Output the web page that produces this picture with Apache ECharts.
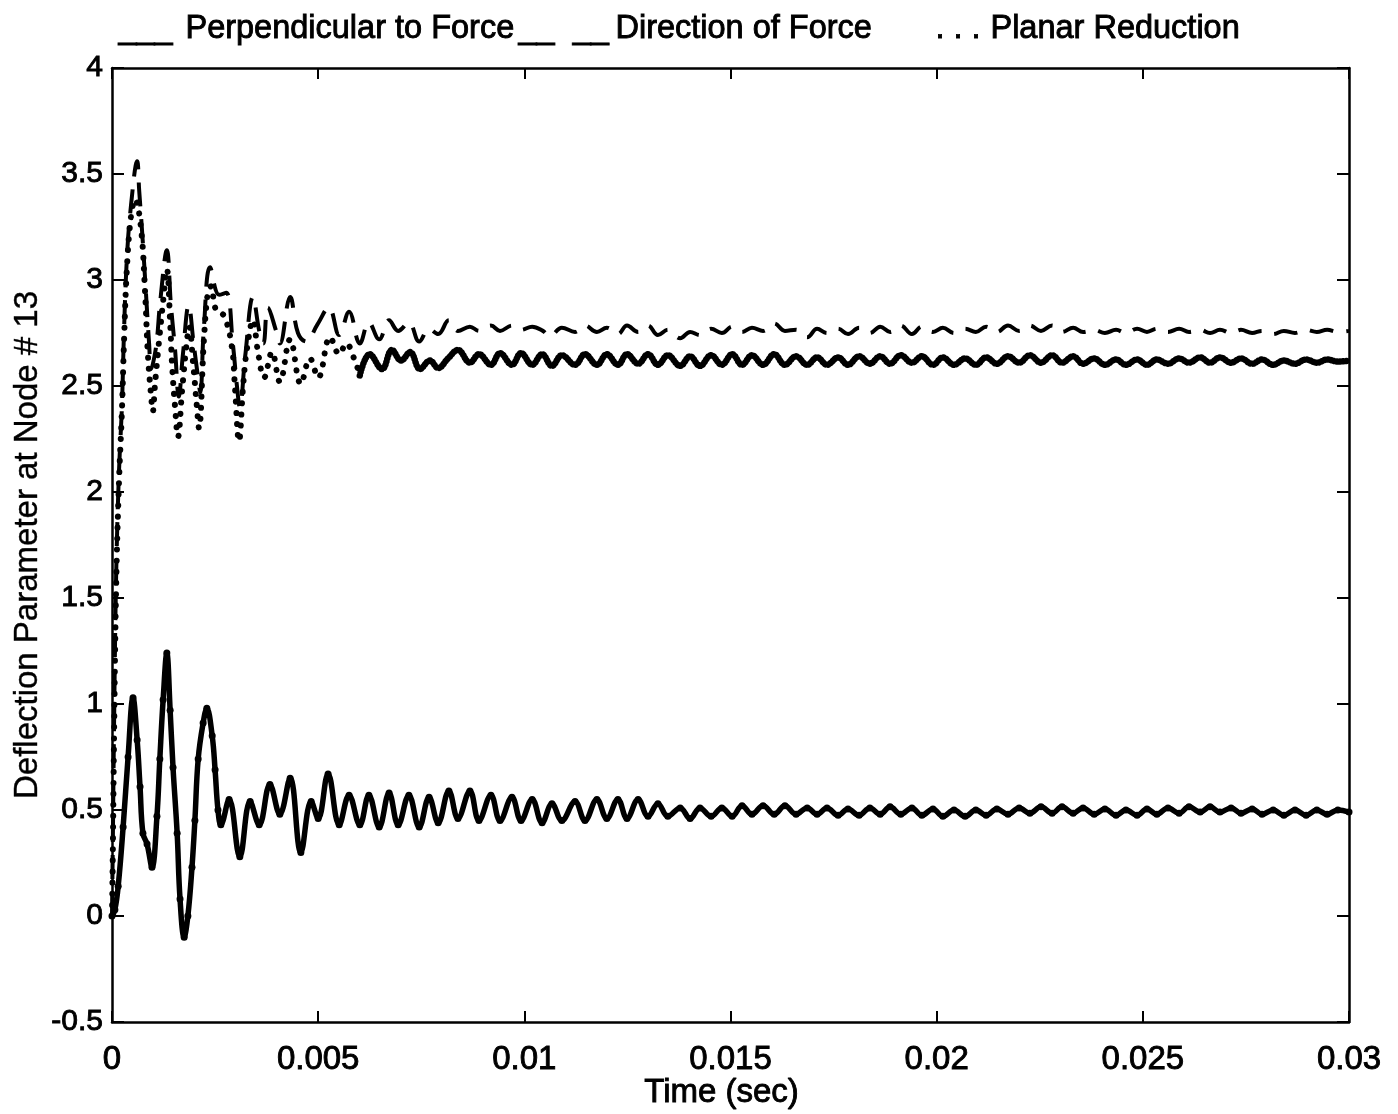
<!DOCTYPE html>
<html>
<head>
<meta charset="utf-8">
<title>Deflection Parameter at Node # 13</title>
<script src="https://cdn.jsdelivr.net/npm/echarts@6/dist/echarts.min.js"></script>
<style>
  html, body { margin: 0; padding: 0; background: #fff; }
  #chart { width: 1398px; height: 1114px; }
</style>
</head>
<body>
<div id="chart"></div>
<script>
// Time values are in milliseconds, deflection parameter is dimensionless.

// Perpendicular to Force (solid, lower curve)
const perpendicular = [
  [0, 0], [0.07, 0.03], [0.15, 0.14], [0.27, 0.42], [0.39, 0.75], [0.51, 1.03],
  [0.61, 0.83], [0.68, 0.61], [0.75, 0.39], [0.85, 0.34], [0.97, 0.23], [1.09, 0.47],
  [1.16, 0.74], [1.24, 1.02], [1.33, 1.24], [1.41, 0.97], [1.48, 0.70], [1.58, 0.39],
  [1.65, 0.08], [1.75, -0.10], [1.84, 0.0], [1.94, 0.23], [2.01, 0.45], [2.09, 0.74],
  [2.21, 0.91], [2.30, 0.98], [2.43, 0.85], [2.50, 0.69], [2.57, 0.50], [2.64, 0.43],
  [2.84, 0.55], [3.10, 0.28], [3.35, 0.54], [3.57, 0.43], [3.83, 0.62], [4.07, 0.48],
  [4.32, 0.65], [4.58, 0.30], [4.83, 0.54], [5.00, 0.46], [5.24, 0.67], [5.51, 0.43],
  [5.75, 0.57], [6.01, 0.43], [6.23, 0.57], [6.48, 0.42], [6.72, 0.58], [6.94, 0.43],
  [7.20, 0.57], [7.45, 0.42], [7.69, 0.56], [7.91, 0.44], [8.17, 0.59], [8.39, 0.46],
  [8.68, 0.59], [8.90, 0.45], [9.19, 0.57], [9.41, 0.45], [9.70, 0.56], [9.92, 0.45],
  [10.19, 0.55], [10.43, 0.44], [10.67, 0.53], [10.91, 0.45], [11.23, 0.54], [11.47, 0.45],
  [11.76, 0.55], [12.00, 0.46], [12.27, 0.55], [12.49, 0.46], [12.76, 0.55], [13.00, 0.47],
  [13.24, 0.53], [13.48, 0.47], [13.78, 0.51], [14.02, 0.46], [14.26, 0.51], [14.53, 0.47],
  [14.79, 0.51], [15.04, 0.47], [15.28, 0.52], [15.52, 0.48], [15.79, 0.52], [16.06, 0.48],
  [16.32, 0.52], [16.59, 0.48], [16.86, 0.51], [17.10, 0.48], [17.34, 0.51], [17.61, 0.475],
  [17.85, 0.505], [18.12, 0.475], [18.38, 0.51], [18.63, 0.48], [18.87, 0.515], [19.13, 0.48],
  [19.40, 0.51], [19.64, 0.475], [19.91, 0.505], [20.15, 0.47], [20.42, 0.50], [20.69, 0.47],
  [20.95, 0.50], [21.20, 0.475], [21.46, 0.505], [21.73, 0.48], [22.00, 0.51], [22.26, 0.485],
  [22.53, 0.515], [22.80, 0.485], [23.04, 0.515], [23.31, 0.485], [23.55, 0.51], [23.82, 0.48],
  [24.08, 0.505], [24.35, 0.475], [24.59, 0.50], [24.86, 0.475], [25.10, 0.505], [25.34, 0.48],
  [25.61, 0.51], [25.88, 0.485], [26.12, 0.515], [26.39, 0.49], [26.63, 0.515], [26.87, 0.49],
  [27.14, 0.51], [27.38, 0.485], [27.65, 0.505], [27.89, 0.48], [28.16, 0.50], [28.42, 0.475],
  [28.69, 0.50], [28.96, 0.475], [29.22, 0.50], [29.47, 0.48], [29.73, 0.50], [30.00, 0.49]
];

// Direction of Force (dashed, top curve)
const direction = [
  [0, 0], [0.02, 0.35], [0.05, 0.9], [0.10, 1.6], [0.17, 2.1], [0.24, 2.4], [0.29, 2.75],
  [0.36, 3.1], [0.46, 3.35], [0.61, 3.56], [0.66, 3.42], [0.74, 3.2], [0.82, 2.95],
  [0.90, 2.7], [0.95, 2.58], [1.03, 2.64], [1.09, 2.72], [1.17, 2.9], [1.33, 3.14],
  [1.43, 2.88], [1.53, 2.67], [1.62, 2.45], [1.72, 2.65], [1.86, 2.88], [1.98, 2.7],
  [2.08, 2.55], [2.14, 2.47], [2.23, 2.78], [2.38, 3.06], [2.60, 2.93], [2.77, 2.94],
  [2.93, 2.7], [3.03, 2.5], [3.10, 2.4], [3.23, 2.64], [3.42, 2.92], [3.57, 2.76],
  [3.67, 2.7], [3.78, 2.87], [3.98, 2.76], [4.07, 2.7], [4.32, 2.92], [4.51, 2.75],
  [4.71, 2.71], [4.98, 2.79], [5.26, 2.87], [5.51, 2.74], [5.75, 2.85], [6.01, 2.70],
  [6.23, 2.80], [6.48, 2.72], [6.72, 2.81], [6.94, 2.76], [7.20, 2.80], [7.45, 2.71],
  [7.69, 2.77], [7.91, 2.745], [8.17, 2.81], [8.39, 2.76], [8.68, 2.78], [8.90, 2.76],
  [9.19, 2.785], [9.41, 2.76], [9.70, 2.785], [9.92, 2.765], [10.19, 2.78], [10.45, 2.76],
  [10.62, 2.735], [10.91, 2.775], [11.23, 2.755], [11.47, 2.785], [11.76, 2.755], [12.00, 2.775],
  [12.27, 2.745], [12.49, 2.785], [12.76, 2.755], [13.00, 2.785], [13.24, 2.74], [13.48, 2.765],
  [13.78, 2.725], [14.02, 2.755], [14.26, 2.74], [14.53, 2.77], [14.79, 2.75], [15.04, 2.78],
  [15.28, 2.755], [15.52, 2.775], [15.79, 2.76], [16.06, 2.795], [16.32, 2.76], [16.59, 2.765],
  [16.86, 2.73], [17.10, 2.77], [17.34, 2.75], [17.61, 2.77], [17.85, 2.745], [18.12, 2.775],
  [18.38, 2.75], [18.63, 2.78], [18.87, 2.755], [19.13, 2.785], [19.40, 2.745], [19.64, 2.78],
  [19.91, 2.755], [20.15, 2.775], [20.42, 2.75], [20.69, 2.77], [20.95, 2.755], [21.20, 2.78],
  [21.46, 2.755], [21.73, 2.785], [22.00, 2.76], [22.26, 2.785], [22.53, 2.76], [22.80, 2.785],
  [23.04, 2.755], [23.31, 2.775], [23.55, 2.755], [23.82, 2.765], [24.08, 2.75], [24.35, 2.765],
  [24.59, 2.75], [24.86, 2.77], [25.10, 2.755], [25.34, 2.77], [25.61, 2.755], [25.88, 2.77],
  [26.12, 2.755], [26.39, 2.765], [26.63, 2.75], [26.87, 2.765], [27.14, 2.75], [27.38, 2.765],
  [27.65, 2.75], [27.89, 2.76], [28.16, 2.745], [28.42, 2.76], [28.69, 2.75], [28.96, 2.765],
  [29.22, 2.755], [29.47, 2.765], [29.73, 2.755], [30.00, 2.76]
];

// Planar Reduction (dotted, middle curve)
const planar = [
  [0, 0], [0.02, 0.3], [0.05, 0.85], [0.10, 1.55], [0.17, 2.05], [0.24, 2.38], [0.29, 2.7],
  [0.36, 3.05], [0.46, 3.3], [0.56, 3.38], [0.70, 3.25], [0.80, 2.95], [0.87, 2.65],
  [0.95, 2.45], [0.99, 2.38], [1.04, 2.5], [1.12, 2.67], [1.24, 2.9], [1.33, 3.05],
  [1.41, 2.8], [1.46, 2.59], [1.53, 2.4], [1.60, 2.26], [1.70, 2.48], [1.82, 2.72],
  [1.87, 2.78], [1.97, 2.6], [2.06, 2.4], [2.11, 2.3], [2.23, 2.72], [2.33, 2.95],
  [2.40, 2.97], [2.52, 2.86], [2.72, 2.83], [2.91, 2.68], [2.98, 2.5], [3.08, 2.24],
  [3.18, 2.5], [3.27, 2.67], [3.42, 2.81], [3.54, 2.66], [3.69, 2.54], [3.88, 2.66],
  [4.07, 2.52], [4.32, 2.72], [4.58, 2.51], [4.80, 2.63], [5.00, 2.54], [5.29, 2.73],
  [5.51, 2.65], [5.68, 2.70], [5.89, 2.62], [6.01, 2.55], [6.25, 2.65], [6.55, 2.58],
  [6.79, 2.67], [7.01, 2.62], [7.23, 2.66], [7.47, 2.58], [7.71, 2.62], [7.91, 2.585],
  [8.15, 2.63], [8.39, 2.67], [8.68, 2.61], [8.90, 2.65], [9.19, 2.60], [9.41, 2.655],
  [9.70, 2.60], [9.92, 2.655], [10.19, 2.60], [10.43, 2.65], [10.67, 2.595], [10.91, 2.645],
  [11.23, 2.60], [11.47, 2.65], [11.76, 2.60], [12.00, 2.65], [12.27, 2.60], [12.49, 2.65],
  [12.76, 2.605], [13.00, 2.65], [13.24, 2.60], [13.48, 2.645], [13.78, 2.595], [14.02, 2.64],
  [14.26, 2.595], [14.53, 2.645], [14.79, 2.60], [15.04, 2.65], [15.28, 2.60], [15.52, 2.645],
  [15.79, 2.60], [16.06, 2.65], [16.32, 2.60], [16.59, 2.64], [16.86, 2.60], [17.10, 2.635],
  [17.34, 2.60], [17.61, 2.635], [17.85, 2.60], [18.12, 2.64], [18.38, 2.605], [18.63, 2.64],
  [18.87, 2.605], [19.13, 2.645], [19.40, 2.61], [19.64, 2.64], [19.91, 2.60], [20.15, 2.635],
  [20.42, 2.60], [20.69, 2.63], [20.95, 2.60], [21.20, 2.635], [21.46, 2.605], [21.73, 2.64],
  [22.00, 2.61], [22.26, 2.645], [22.53, 2.61], [22.80, 2.645], [23.04, 2.61], [23.31, 2.64],
  [23.55, 2.605], [23.82, 2.63], [24.08, 2.60], [24.35, 2.625], [24.59, 2.60], [24.86, 2.625],
  [25.10, 2.60], [25.34, 2.625], [25.61, 2.605], [25.88, 2.63], [26.12, 2.61], [26.39, 2.635],
  [26.63, 2.61], [26.87, 2.635], [27.14, 2.61], [27.38, 2.63], [27.65, 2.605], [27.89, 2.625],
  [28.16, 2.60], [28.42, 2.62], [28.69, 2.605], [28.96, 2.625], [29.22, 2.61], [29.47, 2.625],
  [29.73, 2.615], [30.00, 2.62]
];

// Axis ticks
const timeTicks = [0, 0.005, 0.01, 0.015, 0.02, 0.025, 0.03];
const deflectionTicks = [-0.5, 0, 0.5, 1, 1.5, 2, 2.5, 3, 3.5, 4];

// Legend entries written across the top
const legendItems = [
  { mark: '___', label: 'Perpendicular to Force' },
  { mark: '__  __', label: 'Direction of Force' },
  { mark: '. . .', label: 'Planar Reduction' }
];

const toSeconds = pts => pts.map(([t, v]) => [t / 1000, v]);
// The dotted trace thins out into separate dots while it swings fast early on
const planarSplit = 6.01;

const FONT = "'Liberation Sans', Arial, Helvetica, sans-serif";
const INK = '#000';

const chart = echarts.init(document.getElementById('chart'), null, { renderer: 'canvas' });

const tickLabel = v => String(parseFloat(Number(v).toFixed(4)));

const baseX = {
  type: 'value',
  min: timeTicks[0],
  max: timeTicks[timeTicks.length - 1],
  interval: timeTicks[1] - timeTicks[0],
  splitLine: { show: false },
  axisLine: { show: true, onZero: false, lineStyle: { color: INK, width: 2.5 } },
  axisTick: { show: true, inside: true, length: 11, lineStyle: { color: INK, width: 2 } }
};
const baseY = {
  type: 'value',
  min: deflectionTicks[0],
  max: deflectionTicks[deflectionTicks.length - 1],
  interval: deflectionTicks[1] - deflectionTicks[0],
  splitLine: { show: false },
  axisLine: { show: true, onZero: false, lineStyle: { color: INK, width: 2.5 } },
  axisTick: { show: true, inside: true, length: 12, lineStyle: { color: INK, width: 2 } }
};

// Heavy, slightly inked lettering
const inked = size => ({
  color: INK, fontFamily: FONT, fontSize: size, fontWeight: 'normal',
  textBorderColor: INK, textBorderWidth: 0.9
});

// Legend text row
const graphic = [];
const legendPos = [
  { markX: 118, textX: 185 },
  { markX: 518, textX: 615 },
  { markX: 935, textX: 990 }
];
legendItems.forEach((item, i) => {
  graphic.push({
    type: 'text', left: legendPos[i].markX, top: 12,
    style: { text: item.mark, fill: INK, stroke: INK, lineWidth: 0.9, font: `32.5px ${FONT}` }
  });
  graphic.push({
    type: 'text', left: legendPos[i].textX, top: 12,
    style: { text: item.label, fill: INK, stroke: INK, lineWidth: 0.9, font: `32.5px ${FONT}` }
  });
});

chart.setOption({
  animation: false,
  backgroundColor: '#fff',
  grid: {
    left: 112, right: 49, top: 68, bottom: 92,
    containLabel: false, outerBoundsMode: 'none'
  },
  graphic: graphic,
  xAxis: [
    Object.assign({}, baseX, {
      position: 'bottom',
      axisLabel: Object.assign({ margin: 21, formatter: tickLabel }, inked(33)),
      name: 'Time (sec)',
      nameLocation: 'middle',
      nameGap: 54,
      nameMoveOverlap: false,
      nameTextStyle: Object.assign({ padding: [0, 18, 0, 0] }, inked(33))
    }),
    Object.assign({}, baseX, { position: 'top', axisLabel: { show: false } })
  ],
  yAxis: [
    Object.assign({}, baseY, {
      position: 'left',
      axisLabel: Object.assign({ margin: 9, formatter: tickLabel }, inked(30)),
      name: 'Deflection Parameter at Node # 13',
      nameLocation: 'middle',
      nameGap: 68,
      nameMoveOverlap: false,
      nameTextStyle: Object.assign(inked(33), { textBorderWidth: 0.4 })
    }),
    Object.assign({}, baseY, { position: 'right', axisLabel: { show: false } })
  ],
  series: [
    {
      name: 'Direction of Force',
      type: 'line',
      data: toSeconds(direction),
      smooth: 0.4,
      symbol: 'none',
      lineStyle: { color: INK, width: 4, type: [24, 13], cap: 'butt' }
    },
    {
      name: 'Planar Reduction',
      type: 'line',
      data: toSeconds(planar.filter(p => p[0] <= planarSplit)),
      smooth: 0.4,
      symbol: 'none',
      lineStyle: { color: INK, width: 6, type: [0.1, 11], cap: 'round' }
    },
    {
      name: 'Planar Reduction',
      type: 'line',
      data: toSeconds(planar.filter(p => p[0] >= planarSplit)),
      smooth: 0.4,
      symbol: 'none',
      lineStyle: { color: INK, width: 6.5, type: [0.1, 3], cap: 'round' }
    },
    {
      name: 'Perpendicular to Force',
      type: 'line',
      data: toSeconds(perpendicular),
      smooth: 0.4,
      symbol: 'circle',
      symbolSize: 7,
      showAllSymbol: true,
      itemStyle: { color: INK },
      lineStyle: { color: INK, width: 5.5 }
    }
  ]
});
</script>
</body>
</html>
